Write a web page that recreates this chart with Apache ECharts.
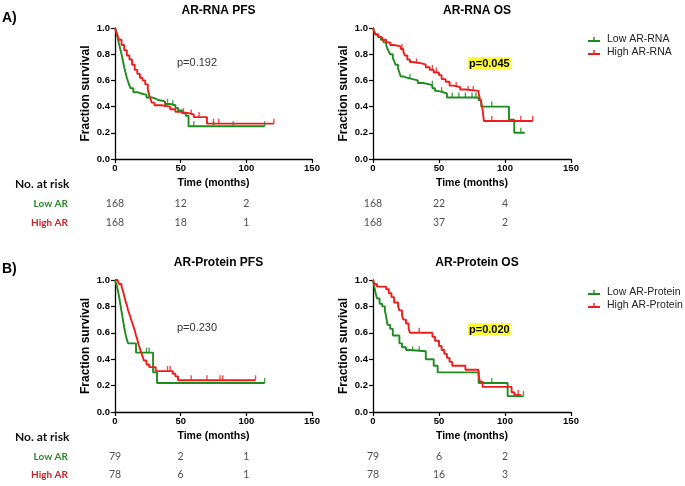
<!DOCTYPE html>
<html><head><meta charset="utf-8">
<script src="https://cdn.jsdelivr.net/npm/echarts@6/dist/echarts.min.js"></script>
<style>html,body{margin:0;padding:0;background:#fff}#c{width:685px;height:486px}</style>
</head><body><div id="c"></div>
<script>
// ---- Data (Kaplan-Meier steps: [time, survival]) ----
const rnaPfsLow = [[0,1],[1,0.97],[2,0.93],[3,0.88],[4,0.84],[5,0.8],[6,0.75],[7,0.7],[8,0.66],[9,0.62],[10,0.59],[11,0.56],[12,0.54],[14,0.51],[17,0.5],[20,0.49],[24,0.47],[28,0.46],[31,0.45],[33,0.44],[38,0.42],[42,0.41],[46,0.39],[48,0.37],[51,0.35],[54,0.33],[56,0.25],[114,0.25]];
const rnaPfsHigh = [[0,1],[1,0.97],[2,0.94],[3,0.91],[5,0.87],[7,0.83],[9,0.79],[11,0.76],[13,0.72],[15,0.68],[17,0.65],[19,0.62],[21,0.6],[23,0.57],[25,0.53],[26,0.49],[27,0.46],[28,0.43],[30,0.41],[35,0.4],[42,0.38],[46,0.36],[50,0.35],[56,0.34],[60,0.32],[70,0.27],[121,0.27]];
const rnaOsLow = [[0,1],[1,0.97],[2,0.95],[4,0.93],[6,0.91],[8,0.89],[10,0.87],[11,0.84],[12,0.82],[13,0.8],[15,0.77],[16,0.75],[17,0.72],[19,0.69],[20,0.66],[21,0.63],[23,0.62],[26,0.61],[30,0.6],[34,0.58],[38,0.57],[43,0.56],[45,0.54],[47,0.52],[49,0.51],[53,0.5],[56,0.47],[80,0.45],[82,0.4],[103,0.3],[107,0.2],[115,0.2]];
const rnaOsHigh = [[0,1],[1,0.97],[2,0.95],[4,0.93],[7,0.91],[10,0.89],[13,0.87],[16,0.86],[21,0.84],[23,0.82],[24,0.79],[26,0.76],[28,0.74],[30,0.73],[37,0.72],[40,0.7],[43,0.68],[46,0.66],[50,0.64],[52,0.61],[55,0.59],[58,0.56],[61,0.55],[66,0.53],[70,0.52],[80,0.5],[81,0.46],[82,0.43],[83,0.38],[84,0.29],[121,0.29]];
const protPfsLow = [[0,1],[1,0.97],[2,0.93],[3,0.88],[4,0.82],[5,0.76],[6,0.7],[7,0.64],[8,0.59],[9,0.55],[10,0.52],[16,0.45],[29,0.3],[32,0.22],[114,0.22]];
const protPfsHigh = [[0,1],[2,0.99],[3,0.97],[5,0.95],[6,0.92],[7,0.88],[8,0.84],[9,0.81],[10,0.77],[11,0.74],[12,0.71],[13,0.68],[14,0.65],[15,0.62],[16,0.58],[17,0.55],[18,0.51],[19,0.48],[20,0.45],[21,0.42],[22,0.39],[24,0.36],[26,0.34],[31,0.31],[44,0.29],[46,0.27],[48,0.24],[107,0.24]];
const protOsLow = [[0,1],[1,0.95],[2,0.9],[3,0.86],[5,0.82],[7,0.8],[9,0.77],[10,0.72],[11,0.66],[13,0.63],[15,0.58],[20,0.52],[22,0.49],[25,0.47],[28,0.46],[40,0.4],[46,0.35],[49,0.3],[80,0.22],[102,0.12],[114,0.12]];
const protOsHigh = [[0,1],[1,0.97],[3,0.95],[10,0.93],[12,0.9],[14,0.87],[16,0.83],[19,0.8],[20,0.77],[22,0.73],[23,0.7],[25,0.67],[27,0.63],[28,0.6],[45,0.57],[47,0.54],[50,0.5],[52,0.47],[54,0.44],[56,0.41],[58,0.38],[60,0.35],[70,0.32],[80,0.28],[81,0.23],[83,0.19],[105,0.15],[107,0.13],[112,0.13]];

// censor marks
const rnaPfsLowC = [[26,0.47],[40,0.42],[44,0.41],[60,0.25],[75,0.25],[90,0.25],[114,0.25]];
const rnaPfsHighC = [[38,0.4],[52,0.35],[58,0.34],[64,0.32],[75,0.27],[79,0.27],[121,0.27]];
const rnaOsLowC = [[28,0.61],[45,0.56],[52,0.51],[60,0.47],[65,0.47],[70,0.47],[75,0.47],[78,0.47],[90,0.4],[112,0.2]];
const rnaOsHighC = [[22,0.84],[33,0.73],[45,0.68],[48,0.66],[63,0.55],[72,0.52],[76,0.52],[90,0.29],[112,0.29],[121,0.29]];
const protPfsLowC = [[24,0.45],[26,0.45],[114,0.22]];
const protPfsHighC = [[40,0.31],[42,0.31],[58,0.24],[70,0.24],[80,0.24],[82,0.24],[107,0.24]];
const protOsLowC = [[30,0.46],[35,0.46],[90,0.22],[114,0.12]];
const protOsHighC = [[35,0.6],[110,0.13]];

// numbers at risk
const riskTimes = [0, 50, 100];
const riskRows = ['Low AR', 'High AR'];
const rnaPfsRiskLow = [168, 12, 2], rnaPfsRiskHigh = [168, 18, 1];
const rnaOsRiskLow = [168, 22, 4], rnaOsRiskHigh = [168, 37, 2];
const protPfsRiskLow = [79, 2, 1], protPfsRiskHigh = [78, 6, 1];
const protOsRiskLow = [79, 6, 2], protOsRiskHigh = [78, 16, 3];

const xTicks = {min: 0, max: 150, interval: 50};
const yTicks = {min: 0, max: 1, interval: 0.2};

// ---- Styling ----
const GREEN = '#1f8c1f', RED = '#ee1d1d';
const FONT = 'Liberation Sans';
const TFONT = 'Lato';

const mainGrids = [
  {left: 115, top: 28, width: 197, height: 131},
  {left: 373, top: 28, width: 198, height: 131},
  {left: 115, top: 280, width: 197, height: 132},
  {left: 373, top: 280, width: 198, height: 132}
];
const riskGrids = [
  {left: 115, top: 194.5, width: 197, height: 38},
  {left: 373, top: 194.5, width: 198, height: 38},
  {left: 115, top: 448, width: 197, height: 36},
  {left: 373, top: 448, width: 198, height: 36}
];

const grids = mainGrids.concat(riskGrids).map(g => Object.assign({containLabel: false}, g));
const xAxes = [], yAxes = [];
for (let i = 0; i < 4; i++) {
  xAxes.push({
    type: 'value', gridIndex: i, min: xTicks.min, max: xTicks.max, interval: xTicks.interval,
    axisLine: {show: true, onZero: false, lineStyle: {color: '#000', width: 1.3}},
    axisTick: {show: true, length: 4, lineStyle: {color: '#000', width: 1.2}},
    axisLabel: {color: '#000', fontFamily: FONT, fontWeight: 'bold', fontSize: 9.5, margin: 4},
    splitLine: {show: false},
    name: 'Time (months)', nameLocation: 'middle', nameGap: 19,
    nameTextStyle: {color: '#000', fontFamily: FONT, fontWeight: 'bold', fontSize: 10.5}
  });
  yAxes.push({
    type: 'value', gridIndex: i, min: yTicks.min, max: yTicks.max, interval: yTicks.interval,
    axisLine: {show: true, lineStyle: {color: '#000', width: 1.3}},
    axisTick: {show: true, length: 4, lineStyle: {color: '#000', width: 1.2}},
    axisLabel: {color: '#000', fontFamily: FONT, fontWeight: 'bold', fontSize: 9.5, margin: 5,
      formatter: v => v.toFixed(1)},
    splitLine: {show: false},
    name: 'Fraction survival', nameLocation: 'middle', nameGap: 23,
    nameTextStyle: {color: '#000', fontFamily: FONT, fontWeight: 'bold', fontSize: 12}
  });
}
for (let i = 0; i < 4; i++) {
  xAxes.push({type: 'value', gridIndex: 4 + i, min: xTicks.min, max: xTicks.max, show: false});
  yAxes.push({
    type: 'category', gridIndex: 4 + i, data: riskRows, inverse: true,
    axisLine: {show: false}, axisTick: {show: false}, splitLine: {show: false},
    axisLabel: {show: i % 2 === 0, margin: 47, formatter: v => v === 'Low AR' ? '{g|' + v + '}' : '{r|' + v + '}',
      rich: {g: {color: '#2a8a2a', fontFamily: TFONT, fontWeight: 'bold', fontSize: 10},
             r: {color: '#c8242b', fontFamily: TFONT, fontWeight: 'bold', fontSize: 10}}}
  });
}

const series = [];
function km(name, data, color, idx) {
  series.push({type: 'line', name, data, step: 'end', xAxisIndex: idx, yAxisIndex: idx,
    showSymbol: false, lineStyle: {color, width: 1.9}, itemStyle: {color}, z: 3, silent: true});
}
function cens(data, color, idx) {
  series.push({type: 'scatter', name: 'censor' + idx + color, data, xAxisIndex: idx, yAxisIndex: idx,
    symbol: 'rect', symbolSize: [1.4, 5], symbolOffset: [0, -2.5], itemStyle: {color}, z: 4, silent: true});
}
function risk(vals, row, idx) {
  series.push({type: 'scatter', name: 'risk' + idx + row, xAxisIndex: idx, yAxisIndex: idx, symbolSize: 0,
    data: riskTimes.map((t, k) => [t, row, vals[k]]), silent: true,
    label: {show: true, position: 'inside', formatter: p => String(p.value[2]),
      color: '#222', fontFamily: TFONT, fontSize: 10.5}});
}
km('Low AR-RNA', rnaPfsLow, GREEN, 0); km('High AR-RNA', rnaPfsHigh, RED, 0);
km('Low AR-RNA', rnaOsLow, GREEN, 1); km('High AR-RNA', rnaOsHigh, RED, 1);
km('Low AR-Protein', protPfsLow, GREEN, 2); km('High AR-Protein', protPfsHigh, RED, 2);
km('Low AR-Protein', protOsLow, GREEN, 3); km('High AR-Protein', protOsHigh, RED, 3);
cens(rnaPfsLowC, GREEN, 0); cens(rnaPfsHighC, RED, 0);
cens(rnaOsLowC, GREEN, 1); cens(rnaOsHighC, RED, 1);
cens(protPfsLowC, GREEN, 2); cens(protPfsHighC, RED, 2);
cens(protOsLowC, GREEN, 3); cens(protOsHighC, RED, 3);
risk(rnaPfsRiskLow, 'Low AR', 4); risk(rnaPfsRiskHigh, 'High AR', 4);
risk(rnaOsRiskLow, 'Low AR', 5); risk(rnaOsRiskHigh, 'High AR', 5);
risk(protPfsRiskLow, 'Low AR', 6); risk(protPfsRiskHigh, 'High AR', 6);
risk(protOsRiskLow, 'Low AR', 7); risk(protOsRiskHigh, 'High AR', 7);

const ICON = 'path://M0,7H5.3V4H6.7V7H12V9H0Z';
function legend(names, top) {
  return {data: names.map(n => ({name: n, icon: ICON})), orient: 'vertical', left: 583, top,
    itemWidth: 12, itemHeight: 7, itemGap: 2, selectedMode: false,
    formatter: n => '{a|' + n + '}',
    textStyle: {rich: {a: {color: '#222', fontFamily: FONT, fontSize: 10.5, padding: [0, 0, 0, 2]}}}};
}

function titleAt(text, grid, top) {
  return {text, left: grid.left + grid.width / 2, top, textAlign: 'center',
    textStyle: {color: '#000', fontFamily: FONT, fontWeight: 'bold', fontSize: 12}};
}

const chart = echarts.init(document.getElementById('c'), null, {renderer: 'canvas'});
chart.setOption({
  animation: false,
  backgroundColor: '#fff',
  title: [
    titleAt('AR-RNA PFS', mainGrids[0], 0),
    titleAt('AR-RNA OS', mainGrids[1], 0),
    titleAt('AR-Protein PFS', mainGrids[2], 252),
    titleAt('AR-Protein OS', mainGrids[3], 252)
  ],
  legend: [legend(['Low AR-RNA', 'High AR-RNA'], 29), legend(['Low AR-Protein', 'High AR-Protein'], 282)],
  grid: grids, xAxis: xAxes, yAxis: yAxes, series,
  graphic: [
    {type: 'text', left: 2, top: 11, style: {text: 'A)', font: 'bold 14px "Liberation Sans"', fill: '#000'}},
    {type: 'text', left: 2, top: 262, style: {text: 'B)', font: 'bold 14px "Liberation Sans"', fill: '#000'}},
    {type: 'text', left: 15, top: 178, style: {text: 'No. at risk', font: 'bold 12px Lato', fill: '#111'}},
    {type: 'text', left: 15, top: 431, style: {text: 'No. at risk', font: 'bold 12px Lato', fill: '#111'}},
    {type: 'text', left: 177, top: 57, style: {text: 'p=0.192', font: '11px "Liberation Sans"', fill: '#333'}},
    {type: 'text', left: 177, top: 322, style: {text: 'p=0.230', font: '11px "Liberation Sans"', fill: '#333'}},
    {type: 'text', left: 468, top: 57, style: {text: 'p=0.045', font: 'bold 11px "Liberation Sans"', fill: '#000',
      backgroundColor: '#ffff33', padding: [1, 1, 0, 1]}},
    {type: 'text', left: 468, top: 323, style: {text: 'p=0.020', font: 'bold 11px "Liberation Sans"', fill: '#000',
      backgroundColor: '#ffff33', padding: [1, 1, 0, 1]}}
  ]
});
</script></body></html>
